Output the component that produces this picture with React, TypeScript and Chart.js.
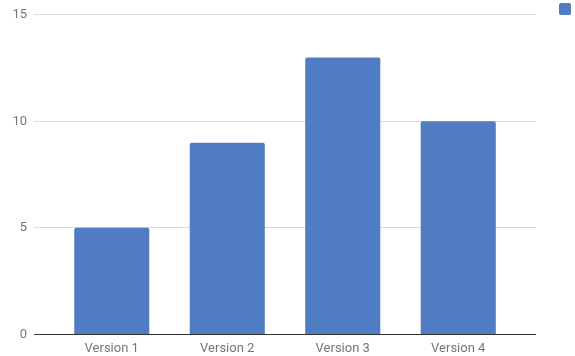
import React, { useEffect, useRef } from "react";
import { Chart, registerables } from "chart.js";

Chart.register(...registerables);

const categories = ["Version 1", "Version 2", "Version 3", "Version 4"];
const seriesValues = [5, 9, 13, 10];
const seriesLabel = "";
const yTicks = [0, 5, 10, 15];

const BAR_COLOR = "#4f7cc2";
const GRID_COLOR = "#d9d9d9";
const BASE_COLOR = "#333333";
const TEXT_COLOR = "#757575";
const FONT = { family: "Roboto", size: 13 };

// Zero baseline is dark, the other gridlines light grey.
const lineColor = (ctx: any) => (ctx.tick && ctx.tick.value === 0 ? BASE_COLOR : GRID_COLOR);

export default function App() {
  const canvasRef = useRef<HTMLCanvasElement | null>(null);

  useEffect(() => {
    if (!canvasRef.current) return;
    const chart = new Chart(canvasRef.current, {
      type: "bar",
      data: {
        labels: categories,
        datasets: [
          {
            label: seriesLabel,
            data: seriesValues,
            backgroundColor: BAR_COLOR,
            borderWidth: 0,
            borderRadius: 2,
            borderSkipped: "bottom",
            categoryPercentage: 0.65,
            barPercentage: 1,
            yAxisID: "y",
          },
        ],
      },
      options: {
        animation: false,
        responsive: false,
        maintainAspectRatio: false,
        layout: { padding: { left: 12, top: 3, right: -8, bottom: -8 } },
        plugins: {
          tooltip: { enabled: false },
          legend: {
            display: true,
            position: "right",
            align: "start",
            labels: {
              boxWidth: 12,
              boxHeight: 12,
              useBorderRadius: true,
              borderRadius: 2,
              padding: 0,
              font: { family: "Roboto", size: 4 },
              color: TEXT_COLOR,
            },
          },
        },
        scales: {
          x: {
            grid: { display: false, drawTicks: false },
            border: { display: false },
            ticks: { color: TEXT_COLOR, font: FONT, padding: 7, maxRotation: 0 },
          },
          y: {
            position: "left",
            min: 0,
            max: 15,
            afterBuildTicks: (scale: any) => {
              scale.ticks = yTicks.map((v) => ({ value: v }));
            },
            afterFit: (scale: any) => {
              scale.width = 42;
            },
            grid: {
              color: lineColor,
              tickColor: lineColor,
              tickLength: 20,
              lineWidth: 1,
            },
            border: { display: false },
            ticks: { color: TEXT_COLOR, font: FONT, padding: 7 },
          },
          y2: {
            position: "right",
            min: 0,
            max: 15,
            afterBuildTicks: (scale: any) => {
              scale.ticks = yTicks.map((v) => ({ value: v }));
            },
            afterFit: (scale: any) => {
              scale.width = 43;
            },
            grid: {
              drawOnChartArea: false,
              color: lineColor,
              tickColor: lineColor,
              tickLength: 20,
              lineWidth: 1,
            },
            border: { display: false },
            ticks: { display: false },
          },
        },
      },
    });
    return () => chart.destroy();
  }, []);

  return (
    <div style={{ position: "absolute", left: 0, top: 0, width: 575, height: 356 }}>
      <canvas ref={canvasRef} width={575} height={356} />
    </div>
  );
}
